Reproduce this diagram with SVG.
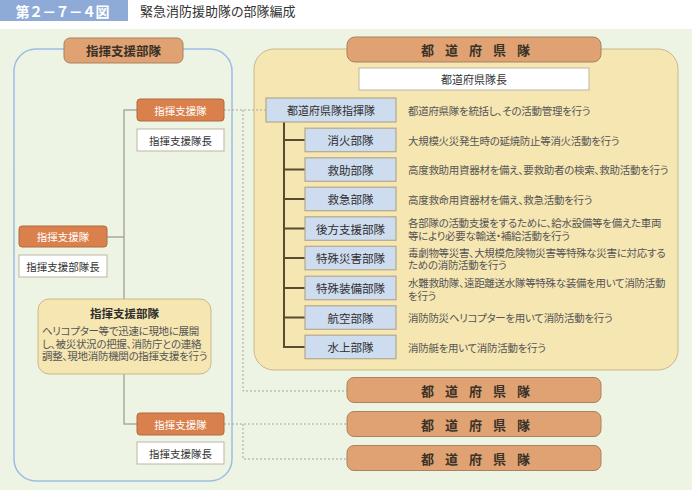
<svg xmlns="http://www.w3.org/2000/svg" width="692" height="490" viewBox="0 0 692 490">
<style>
text{font-family:"Noto Sans CJK JP","Noto Sans",sans-serif;font-feature-settings:"palt";dominant-baseline:central;fill:#333}
.hdr{fill:#e0a272;stroke:#a8825f;stroke-width:1}
.cmd{fill:#d9804c;stroke:#b06a40;stroke-width:1}
.wht{fill:#fff;stroke:#bdb5a5;stroke-width:1}
.sub{fill:#cedcf0;stroke:#b3a98d;stroke-width:1.2}
.hdt{font-size:12.5px;font-weight:bold;fill:#3a3228;text-anchor:middle}
.pref{font-size:13px;font-weight:bold;fill:#3a3228;letter-spacing:11px}
.ct{font-size:10.5px;fill:#fff;text-anchor:middle}
.wt{font-size:10.5px;fill:#333;text-anchor:middle}
.st{font-size:11.5px;fill:#2e2e2e;text-anchor:middle}
.desc{font-size:10.5px;fill:#555;letter-spacing:-0.3px}
.dot{fill:none;stroke:#a6a6a6;stroke-width:1;stroke-dasharray:2,2}
.gl{fill:none;stroke:#a9a9a0;stroke-width:1.5}
.tree{fill:none;stroke:#5b4a32;stroke-width:2}
</style>
<rect x="0" y="0" width="692" height="490" fill="#fff"/>
<rect x="0" y="29" width="692" height="461" fill="#eef4e4"/>
<g id="title">
<rect x="0" y="0" width="128" height="21" fill="#8eabd8"/>
<text x="63" y="10.5" style="font-size:14px;font-weight:bold;fill:#fff;text-anchor:middle;letter-spacing:1px">第２－７－４図</text>
<text x="140" y="10.5" style="font-size:13px;fill:#333">緊急消防援助隊の部隊編成</text>
</g>
<g id="panels">
<rect x="14" y="49" width="218" height="432" rx="22" fill="none" stroke="#9dbde6" stroke-width="1.5"/>
<rect x="254" y="49" width="424" height="321" rx="20" fill="#f5e6b2" stroke="#c8b88c" stroke-width="1"/>
</g>
<g id="connectors">
<polyline class="gl" points="137,110 124,110 124,424 137,424"/>
<line class="gl" x1="107" y1="237" x2="124" y2="237"/>
<polyline class="dot" points="224,110 266,110"/>
<polyline class="dot" points="243,110 243,391 348,391"/>
<polyline class="dot" points="224,424 348,424"/>
<polyline class="dot" points="243,424 243,459 348,459"/>
<polyline class="tree" points="284,122 284,347 305,347"/>
<line class="tree" x1="284" y1="140" x2="305" y2="140"/>
<line class="tree" x1="284" y1="169.5" x2="305" y2="169.5"/>
<line class="tree" x1="284" y1="199" x2="305" y2="199"/>
<line class="tree" x1="284" y1="228.5" x2="305" y2="228.5"/>
<line class="tree" x1="284" y1="258" x2="305" y2="258"/>
<line class="tree" x1="284" y1="288" x2="305" y2="288"/>
<line class="tree" x1="284" y1="317.5" x2="305" y2="317.5"/>
</g>
<g id="shien-butai-header">
<rect class="hdr" x="64" y="38" width="119" height="25" rx="6"/>
<text class="hdt" x="123.5" y="50.5">指揮支援部隊</text>
</g>
<g id="shien-tai-1">
<rect class="cmd" x="137" y="99" width="87" height="22" rx="3"/>
<text class="ct" x="180.5" y="110">指揮支援隊</text>
</g>
<g id="shien-taicho-1">
<rect class="wht" x="137" y="129" width="87" height="22"/>
<text class="wt" x="180.5" y="140">指揮支援隊長</text>
</g>
<g id="shien-tai-2">
<rect class="cmd" x="19" y="226" width="88" height="21" rx="3"/>
<text class="ct" x="63" y="236.5">指揮支援隊</text>
</g>
<g id="shien-butaicho">
<rect class="wht" x="19" y="255" width="88" height="22"/>
<text class="wt" x="63" y="266">指揮支援部隊長</text>
</g>
<g id="shien-butai-desc">
<rect x="38" y="299" width="173" height="75" rx="11" fill="#f5e6b2" stroke="#c8b88c" stroke-width="1"/>
<text x="124.5" y="313" style="font-size:11.5px;font-weight:bold;fill:#2e2e2e;text-anchor:middle">指揮支援部隊</text>
<text class="desc" x="42" y="330.5">ヘリコプター等で迅速に現地に展開</text>
<text class="desc" x="42" y="343">し、被災状況の把握、消防庁との連絡</text>
<text class="desc" x="42" y="355.5">調整、現地消防機関の指揮支援を行う</text>
</g>
<g id="shien-tai-3">
<rect class="cmd" x="137" y="413" width="87" height="22" rx="3"/>
<text class="ct" x="180.5" y="424">指揮支援隊</text>
</g>
<g id="shien-taicho-3">
<rect class="wht" x="137" y="442" width="87" height="22"/>
<text class="wt" x="180.5" y="453">指揮支援隊長</text>
</g>
<g id="pref-header">
<rect class="hdr" x="347" y="37" width="254" height="25" rx="8"/>
<text class="pref" x="421" y="49.5">都道府県隊</text>
</g>
<g id="pref-taicho">
<rect class="wht" x="359" y="68" width="230" height="22"/>
<text class="wt" x="474" y="79" style="font-size:11px">都道府県隊長</text>
</g>
<g id="pref-shiki">
<rect class="sub" x="266" y="98" width="130" height="24"/>
<text class="st" x="331" y="110" style="font-size:11px">都道府県隊指揮隊</text>
<text class="desc" x="408" y="110">都道府県隊を統括し、その活動管理を行う</text>
</g>
<g id="shoka">
<rect class="sub" x="305" y="128.2" width="91" height="23.5"/>
<text class="st" x="350.5" y="140">消火部隊</text>
<text class="desc" x="408" y="140">大規模火災発生時の延焼防止等消火活動を行う</text>
</g>
<g id="kyujo">
<rect class="sub" x="305" y="157.8" width="91" height="23.5"/>
<text class="st" x="350.5" y="169.5">救助部隊</text>
<text class="desc" x="408" y="169.5">高度救助用資器材を備え、要救助者の検索、救助活動を行う</text>
</g>
<g id="kyukyu">
<rect class="sub" x="305" y="187.2" width="91" height="23.5"/>
<text class="st" x="350.5" y="199">救急部隊</text>
<text class="desc" x="408" y="199">高度救命用資器材を備え、救急活動を行う</text>
</g>
<g id="koho">
<rect class="sub" x="305" y="216.8" width="91" height="23.5"/>
<text class="st" x="350.5" y="228.5">後方支援部隊</text>
<text class="desc" x="408" y="222">各部隊の活動支援をするために、給水設備等を備えた車両</text>
<text class="desc" x="408" y="235">等により必要な輸送・補給活動を行う</text>
</g>
<g id="tokushu-saigai">
<rect class="sub" x="305" y="246.3" width="91" height="23.5"/>
<text class="st" x="350.5" y="258">特殊災害部隊</text>
<text class="desc" x="408" y="252">毒劇物等災害、大規模危険物災害等特殊な災害に対応する</text>
<text class="desc" x="408" y="264.5">ための消防活動を行う</text>
</g>
<g id="tokushu-sobi">
<rect class="sub" x="305" y="276.2" width="91" height="23.5"/>
<text class="st" x="350.5" y="288">特殊装備部隊</text>
<text class="desc" x="408" y="282.5">水難救助隊、遠距離送水隊等特殊な装備を用いて消防活動</text>
<text class="desc" x="408" y="295">を行う</text>
</g>
<g id="koku">
<rect class="sub" x="305" y="305.8" width="91" height="23.5"/>
<text class="st" x="350.5" y="317.5">航空部隊</text>
<text class="desc" x="408" y="317.5">消防防災ヘリコプターを用いて消防活動を行う</text>
</g>
<g id="suijo">
<rect class="sub" x="305" y="335.2" width="91" height="23.5"/>
<text class="st" x="350.5" y="347">水上部隊</text>
<text class="desc" x="408" y="347">消防艇を用いて消防活動を行う</text>
</g>
<g id="pref-2">
<rect class="hdr" x="347" y="377.5" width="254" height="25" rx="7"/>
<text class="pref" x="421" y="390">都道府県隊</text>
</g>
<g id="pref-3">
<rect class="hdr" x="347" y="411.5" width="254" height="25" rx="7"/>
<text class="pref" x="421" y="424">都道府県隊</text>
</g>
<g id="pref-4">
<rect class="hdr" x="347" y="445.5" width="254" height="25" rx="7"/>
<text class="pref" x="421" y="458">都道府県隊</text>
</g>
</svg>
